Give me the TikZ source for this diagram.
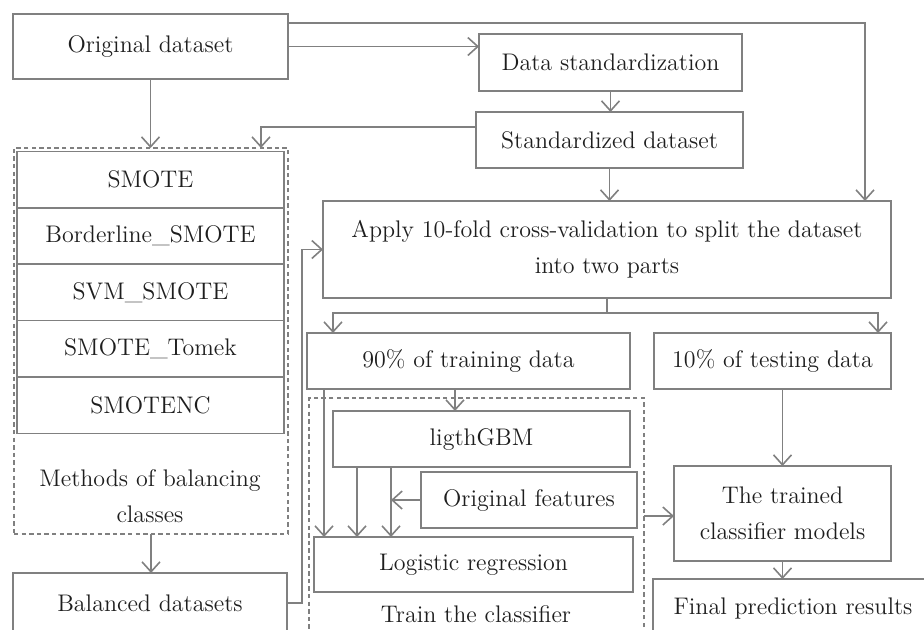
\documentclass[tikz,border=0pt]{standalone}
\usetikzlibrary{arrows.meta,positioning}

\definecolor{linegray}{RGB}{128,128,128}
\definecolor{textdark}{RGB}{30,30,30}

\begin{document}
\begin{tikzpicture}[x=0.5pt,y=-0.5pt,
  every node/.style={font=\fontsize{12}{18}\selectfont, text=textdark, align=center},
  box/.style={draw=linegray, line width=0.8pt, inner sep=0pt, outer sep=0pt},
  dbox/.style={draw=linegray, line width=0.8pt, dash pattern=on 2.2pt off 1.6pt, inner sep=0pt, outer sep=0pt},
  row/.style={box, minimum width=133.5pt, minimum height=28.2pt},
  ln/.style={draw=linegray, line width=0.8pt},
  arr/.style={ln, -{Straight Barb[length=5pt,width=9pt]}}]
  \useasboundingbox (0,0) rectangle (924,629);
  \clip (0,0) rectangle (924,629);

  % data preparation
  \node[box, minimum width=137.5pt, minimum height=32.5pt] (orig) at (150.5,46.5) {Original dataset};
  \node[box, minimum width=131.5pt, minimum height=28.5pt] (std) at (610.5,62.5) {Data standardization};
  \node[box, minimum width=133.5pt, minimum height=28pt] (stdset) at (609.5,140) {Standardized dataset};
  \node[box, minimum width=284pt, minimum height=48.5pt] (apply) at (607,249.5)
    {Apply 10-fold cross-validation to split the dataset\\into two parts};

  % balancing methods
  \node[dbox, minimum width=137pt, minimum height=193pt] (meth) at (151,341) {};
  \node[row] (smote) at (150.5,179.5) {SMOTE};
  \node[row, below=0pt of smote] (bsmote) {Borderline\_SMOTE};
  \node[row, below=0pt of bsmote] (svmsmote) {SVM\_SMOTE};
  \node[row, below=0pt of svmsmote] (tomek) {SMOTE\_Tomek};
  \node[row, below=0pt of tomek] (smotenc) {SMOTENC};
  \node (methlbl) at (150,496) {Methods of balancing\\classes};
  \node[box, minimum width=137pt, minimum height=30pt] (bal) at (150,603) {Balanced datasets};

  % training and testing
  \node[box, minimum width=161.5pt, minimum height=28pt] (p90) at (468.5,361) {90\% of training data};
  \node[box, minimum width=118.5pt, minimum height=28pt] (p10) at (772.5,361) {10\% of testing data};
  \node[dbox, minimum width=167.5pt, minimum height=118pt] (train) at (476.5,516) {};
  \node[box, minimum width=148.5pt, minimum height=28pt] (lgbm) at (481.5,439) {ligthGBM};
  \node[box, minimum width=108pt, minimum height=28pt] (feat) at (529,500) {Original features};
  \node[box, minimum width=159.5pt, minimum height=27.5pt] (logit) at (473.5,564.5) {Logistic regression};
  \node (trainlbl) at (476,614) {Train the classifier};
  \node[box, minimum width=108.5pt, minimum height=47.5pt] (trained) at (782.5,513.5) {The trained\\classifier models};
  \node[box, minimum width=140pt, minimum height=29pt] (final) at (793,608) {Final prediction results};

  % arrows
  \draw[arr] (orig.east) -- (orig.east -| std.west);
  \draw[arr] ([yshift=-4.5pt]orig.north east) -| ([xshift=-13pt]apply.north east);
  \draw[arr] (orig.south) -- (orig.south |- meth.north);
  \draw[arr] (std.south) -- (std.south |- stdset.north);
  \draw[arr] ([yshift=6.5pt]stdset.west) -| ([xshift=-13.5pt]meth.north east);
  \draw[arr] (stdset.south) -- (stdset.south |- apply.north);
  \draw[arr] (meth.south) -- (meth.south |- bal.north);
  \draw[arr] (bal.east) -- ++(15,0) |- (apply.west);

  \coordinate (split) at ([yshift=-7.5pt]apply.south);
  \draw[ln] (apply.south) -- (split);
  \draw[arr] (split) -| ([xshift=13pt]p90.north west);
  \draw[arr] (split) -| ([xshift=-6.5pt]p10.north east);

  \coordinate (t1) at ([xshift=-6.75pt]p90.south);
  \coordinate (t2) at ([xshift=8.5pt]p90.south west);
  \coordinate (g1) at ([xshift=12pt]lgbm.south west);
  \coordinate (g2) at ([xshift=29pt]lgbm.south west);
  \draw[arr] (t1) -- (t1 |- lgbm.north);
  \draw[arr] (t2) -- (t2 |- logit.north);
  \draw[arr] (g1) -- (g1 |- logit.north);
  \draw[arr] (g2) -- (g2 |- logit.north);
  \draw[arr] (feat.west) -- (feat.west -| g2);

  \draw[arr] (train.east) -- (train.east -| trained.west);
  \draw[arr] (trained.north |- p10.south) -- (trained.north);
  \draw[arr] (trained.south) -- (trained.south |- final.north);
\end{tikzpicture}
\end{document}
